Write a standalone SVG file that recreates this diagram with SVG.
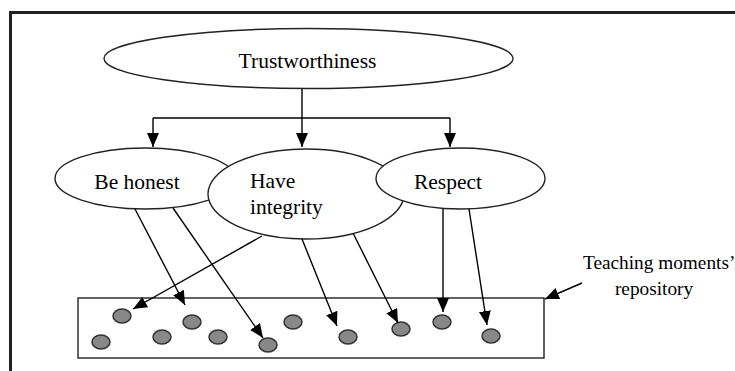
<svg xmlns="http://www.w3.org/2000/svg" width="735" height="371" viewBox="0 0 735 371">
<defs>
<marker id="ah" markerUnits="userSpaceOnUse" markerWidth="15" markerHeight="13" refX="14" refY="6" orient="auto">
<path d="M0,0 L14,6 L0,12 z" fill="#000"/>
</marker>
<style>
.node{fill:#fff;stroke:#222;stroke-width:1.4}
.dot{fill:#888;stroke:#333;stroke-width:1.5}
.t{font-family:"Liberation Serif","Times New Roman",serif;font-size:21.5px;fill:#000}
.lbl{font-family:"Liberation Serif","Times New Roman",serif;font-size:19.3px;fill:#000}
.c{fill:none;stroke:#000;stroke-width:1.4}
.ca{fill:none;stroke:#000;stroke-width:1.4;marker-end:url(#ah)}
</style>
</defs>
<rect width="735" height="371" fill="#fff"/>
<g id="frame">
<path d="M10.5,371 V12.5 H735" fill="none" stroke="#222" stroke-width="3"/>
</g>
<g id="repository">
<rect x="78" y="298" width="466" height="60" fill="#fff" stroke="#222" stroke-width="1.4"/>
<ellipse class="dot" cx="122" cy="316" rx="9" ry="7"/>
<ellipse class="dot" cx="101" cy="342" rx="9" ry="7"/>
<ellipse class="dot" cx="192" cy="322" rx="9" ry="7"/>
<ellipse class="dot" cx="162" cy="337" rx="9" ry="7"/>
<ellipse class="dot" cx="218" cy="337" rx="9" ry="7"/>
<ellipse class="dot" cx="268" cy="345" rx="9" ry="7"/>
<ellipse class="dot" cx="293" cy="322" rx="9" ry="7"/>
<ellipse class="dot" cx="348" cy="337" rx="9" ry="7"/>
<ellipse class="dot" cx="401" cy="329" rx="9" ry="7"/>
<ellipse class="dot" cx="442" cy="322" rx="9" ry="7"/>
<ellipse class="dot" cx="491" cy="336" rx="9" ry="7"/>
</g>
<g id="trustworthiness">
<ellipse class="node" cx="308.5" cy="58.5" rx="204.5" ry="30"/>
<text class="t" x="307.5" y="68" text-anchor="middle">Trustworthiness</text>
</g>
<g id="be-honest">
<ellipse class="node" cx="145" cy="178.5" rx="90" ry="30.5"/>
<text class="t" x="137" y="189" text-anchor="middle">Be honest</text>
</g>
<g id="have-integrity">
<ellipse class="node" cx="306" cy="194" rx="98" ry="45"/>
<text class="t" x="250" y="188">Have</text>
<text class="t" x="250" y="214">integrity</text>
</g>
<g id="respect">
<ellipse class="node" cx="460.5" cy="178.5" rx="84.5" ry="30.5"/>
<text class="t" x="448" y="189" text-anchor="middle">Respect</text>
</g>
<g id="label">
<text class="lbl" x="583" y="269">Teaching moments’</text>
<text class="lbl" x="654" y="295" text-anchor="middle">repository</text>
</g>
<g id="connectors">
<path class="c" d="M302,89 V118 M153,118 H450"/>
<path class="ca" d="M153,118 V147"/>
<path class="ca" d="M302,118 V147"/>
<path class="ca" d="M450,118 V147"/>
<path class="ca" d="M135,209 L185,305"/>
<path class="ca" d="M173,208 L263,338"/>
<path class="ca" d="M262,236 L133,309"/>
<path class="ca" d="M302,239 L337,326"/>
<path class="ca" d="M353,233 L398,323"/>
<path class="ca" d="M443,209 V312"/>
<path class="ca" d="M469,209 L487,325"/>
<path class="ca" d="M582,283 L545,299"/>
</g>
</svg>
